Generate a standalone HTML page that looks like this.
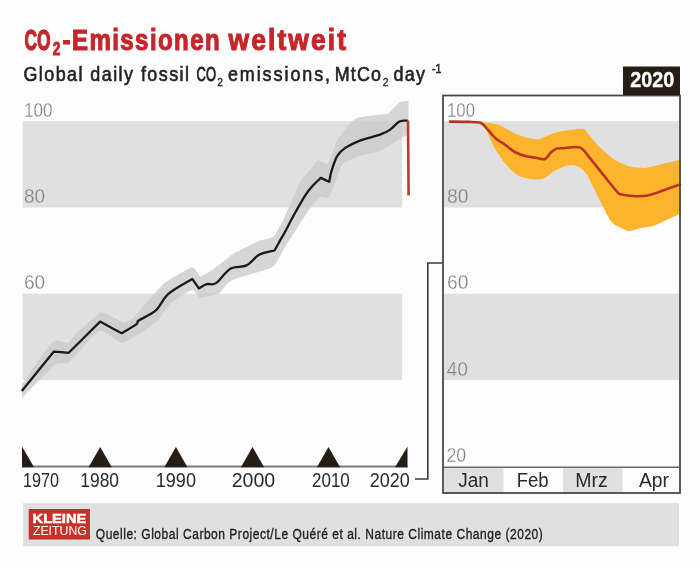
<!DOCTYPE html>
<html><head><meta charset="utf-8"><style>
html,body{margin:0;padding:0;background:#fdfdfd;}
svg{display:block;font-family:"Liberation Sans",sans-serif;will-change:transform;}
</style></head><body>
<svg width="700" height="571" viewBox="0 0 700 571">
<rect width="700" height="571" fill="#fdfdfd"/>
<text x="24.4" y="50" font-size="29.3" font-weight="bold" fill="#c5262c" textLength="26.0" lengthAdjust="spacingAndGlyphs" stroke="#c5262c" stroke-width="1.4">CO</text>
<text x="52.8" y="55" font-size="17.5" font-weight="bold" fill="#c5262c" textLength="7.6" lengthAdjust="spacingAndGlyphs" stroke="#c5262c" stroke-width="0.9">2</text>
<text transform="scale(0.82,1)" x="76.34" y="50" font-size="29.3" font-weight="bold" fill="#c5262c" textLength="191.46" lengthAdjust="spacing" stroke="#c5262c" stroke-width="1.1">-Emissionen</text>
<text transform="scale(0.9,1)" x="253.89" y="50" font-size="29.3" font-weight="bold" fill="#c5262c" textLength="130.56" lengthAdjust="spacing" stroke="#c5262c" stroke-width="1.1">weltweit</text>
<text transform="scale(0.9,1)" x="26.00" y="81.1" font-size="19.9" font-weight="normal" fill="#222" textLength="184.00" lengthAdjust="spacing" stroke="#222" stroke-width="0.6">Global daily fossil</text>
<text x="196.6" y="81.1" font-size="19.9" font-weight="normal" fill="#222" textLength="19.4" lengthAdjust="spacingAndGlyphs" stroke="#222" stroke-width="0.9">CO</text>
<text x="217.2" y="86" font-size="11.5" font-weight="normal" fill="#222" textLength="5.8" lengthAdjust="spacingAndGlyphs" stroke="#222" stroke-width="0.35">2</text>
<text transform="scale(0.9,1)" x="253.22" y="81.1" font-size="19.9" font-weight="normal" fill="#222" textLength="113.56" lengthAdjust="spacing" stroke="#222" stroke-width="0.6">emissions,</text>
<text transform="scale(0.9,1)" x="372.00" y="81.1" font-size="19.9" font-weight="normal" fill="#222" textLength="51.33" lengthAdjust="spacing" stroke="#222" stroke-width="0.6">MtCo</text>
<text x="382.7" y="86" font-size="11.5" font-weight="normal" fill="#222" textLength="5.8" lengthAdjust="spacingAndGlyphs" stroke="#222" stroke-width="0.35">2</text>
<text transform="scale(0.9,1)" x="437.33" y="81.1" font-size="19.9" font-weight="normal" fill="#222" textLength="34.89" lengthAdjust="spacing" stroke="#222" stroke-width="0.6">day</text>
<text x="432" y="73.2" font-size="12.5" font-weight="normal" fill="#222" textLength="9.5" lengthAdjust="spacingAndGlyphs" stroke="#222" stroke-width="0.5">-1</text>
<rect x="22.7" y="121.2" width="379.5" height="86.3" fill="#e0e0e0"/><rect x="22.7" y="293.7" width="379.5" height="86.4" fill="#e0e0e0"/><text x="24" y="116.5" font-size="21" font-weight="normal" fill="#7f7f7f" textLength="28.5" lengthAdjust="spacingAndGlyphs" stroke="#fdfdfd" stroke-width="0.3">100</text>
<text x="24" y="203.2" font-size="21" font-weight="normal" fill="#7f7f7f" textLength="21" lengthAdjust="spacingAndGlyphs" stroke="#e0e0e0" stroke-width="0.3">80</text>
<text x="24" y="288.9" font-size="21" font-weight="normal" fill="#7f7f7f" textLength="21" lengthAdjust="spacingAndGlyphs" stroke="#fdfdfd" stroke-width="0.3">60</text>
<path d="M22.00,384.00 C24.58,380.47 49.17,345.03 53.00,341.60 C56.83,338.18 66.07,343.47 67.90,342.90 C69.73,342.32 72.32,337.22 75.00,334.70 C77.68,332.18 97.03,314.22 100.10,312.70 C103.17,311.18 109.81,315.58 111.80,316.40 C113.79,317.22 122.27,322.35 124.00,322.50 C125.73,322.65 130.96,319.58 132.60,318.20 C134.24,316.82 141.02,308.82 143.70,305.90 C146.38,302.97 160.65,286.32 164.70,283.10 C168.75,279.88 189.34,267.85 192.30,267.30 C195.26,266.75 198.45,276.33 200.20,276.50 C201.95,276.67 211.44,270.50 213.30,269.30 C215.16,268.10 220.69,263.47 222.50,262.10 C224.31,260.73 232.03,254.63 235.00,252.90 C237.97,251.17 254.89,242.67 258.10,241.30 C261.31,239.93 271.25,238.59 273.50,236.50 C275.75,234.41 282.85,220.77 285.10,216.20 C287.35,211.62 298.26,185.62 300.50,181.60 C302.74,177.58 310.54,169.76 312.00,168.00 C313.46,166.24 316.67,160.88 318.00,160.50 C319.33,160.12 326.39,165.21 328.00,163.50 C329.61,161.79 335.30,143.53 337.30,140.00 C339.30,136.47 350.13,123.09 352.00,121.20 C353.87,119.31 357.37,117.86 359.70,117.30 C362.03,116.74 377.61,114.83 380.00,114.50 C382.39,114.17 386.78,114.41 388.40,113.40 C390.02,112.39 397.72,103.43 399.40,102.40 C401.07,101.37 407.74,101.12 408.50,101.00 L408.50,135.00 C408.04,135.17 405.38,135.67 403.00,137.00 C400.62,138.33 383.63,149.42 380.00,151.00 C376.37,152.58 362.57,154.83 359.40,156.00 C356.23,157.17 344.50,161.60 342.00,165.00 C339.50,168.40 331.23,194.13 329.40,196.80 C327.57,199.47 321.70,195.90 320.00,197.00 C318.30,198.10 310.75,207.67 309.00,210.00 C307.25,212.33 300.99,221.91 299.00,225.00 C297.01,228.09 287.23,243.66 285.10,247.10 C282.98,250.54 275.75,264.22 273.50,266.30 C271.25,268.38 261.31,271.05 258.10,272.10 C254.89,273.15 237.63,277.88 235.00,278.90 C232.37,279.92 227.87,283.17 226.50,284.40 C225.13,285.62 220.79,292.50 218.60,293.60 C216.41,294.70 202.39,297.93 200.20,297.60 C198.01,297.28 194.71,289.27 192.30,289.70 C189.89,290.13 174.16,300.28 171.30,302.80 C168.44,305.32 160.19,317.69 158.00,320.00 C155.81,322.31 146.81,329.22 145.00,330.50 C143.19,331.78 138.25,334.38 136.30,335.40 C134.35,336.42 124.67,343.11 121.60,342.70 C118.53,342.29 103.38,329.38 99.50,330.50 C95.62,331.62 77.62,353.49 75.00,356.20 C72.38,358.91 69.69,362.27 68.00,363.00 C66.31,363.73 58.53,362.08 54.70,365.00 C50.87,367.92 24.73,395.25 22.00,398.00 Z" fill="#cbcbcb" opacity="0.78"/><path d="M21.80,391.00 C27.15,384.43 48.55,358.17 53.90,351.60 L53.90,351.60 C56.37,351.80 66.23,352.60 68.70,352.80 L68.70,352.80 C73.93,347.60 94.87,326.80 100.10,321.60 L100.10,321.60 C103.68,323.53 118.02,331.27 121.60,333.20 L121.60,333.20 C124.05,331.72 133.45,326.42 136.30,324.30 C139.15,322.18 135.50,322.77 138.70,320.50 C141.90,318.23 150.50,315.18 155.50,310.70 C160.50,306.22 162.57,298.90 168.70,293.60 C174.83,288.30 188.37,281.35 192.30,278.90 L192.30,278.90 C193.40,280.48 197.80,286.82 198.90,288.40 L198.90,288.40 C200.22,287.70 203.95,285.08 206.80,284.20 C209.65,283.32 212.07,285.68 216.00,283.10 C219.93,280.52 225.30,271.65 230.40,268.70 C235.50,265.75 241.82,267.72 246.60,265.40 C251.38,263.08 254.45,257.28 259.10,254.80 C263.75,252.32 271.93,251.22 274.50,250.50 L274.50,250.50 C275.25,249.17 277.23,245.63 279.00,242.50 C280.77,239.37 282.93,235.70 285.10,231.70 C287.27,227.70 289.75,222.68 292.00,218.50 C294.25,214.32 296.30,210.58 298.60,206.60 C300.90,202.62 303.57,197.95 305.80,194.60 C308.03,191.25 309.50,189.28 312.00,186.50 C314.50,183.72 319.33,179.33 320.80,177.90 L320.80,177.90 C322.20,178.55 327.80,181.15 329.20,181.80 L329.20,181.80 C329.63,179.83 330.45,174.33 331.80,170.00 C333.15,165.67 335.07,159.48 337.30,155.80 C339.53,152.12 341.52,150.40 345.20,147.90 C348.88,145.40 353.60,143.00 359.40,140.80 C365.20,138.60 374.92,136.52 380.00,134.70 C385.08,132.88 386.67,132.10 389.90,129.90 C393.13,127.70 396.38,123.03 399.40,121.50 C402.42,119.97 406.57,120.83 408.00,120.70" fill="none" stroke="#1d1916" stroke-width="2.3" stroke-linejoin="round"/><line x1="408" y1="120.5" x2="408.6" y2="195.5" stroke="#b83a30" stroke-width="2.6"/><line x1="22" y1="466.5" x2="407.5" y2="466.5" stroke="#7a7a7a" stroke-width="2"/><polygon points="22,446.5 22,467.2 34,467.2" fill="#261d15"/><polygon points="88.60000000000001,467.2 100.2,447 111.8,467.2" fill="#261d15"/><polygon points="164.3,467.2 175.9,447 187.5,467.2" fill="#261d15"/><polygon points="240.9,467.2 252.5,447 264.1,467.2" fill="#261d15"/><polygon points="316.9,467.2 328.5,447 340.1,467.2" fill="#261d15"/><polygon points="407.5,446.5 407.5,467.2 395,467.2" fill="#261d15"/><text x="23" y="486.6" font-size="19.5" font-weight="normal" fill="#2a2a2a" textLength="36" lengthAdjust="spacingAndGlyphs" >1970</text>
<text x="80.3" y="486.6" font-size="19.5" font-weight="normal" fill="#2a2a2a" textLength="38.7" lengthAdjust="spacingAndGlyphs" >1980</text>
<text x="155.7" y="486.6" font-size="19.5" font-weight="normal" fill="#2a2a2a" textLength="40.3" lengthAdjust="spacingAndGlyphs" >1990</text>
<text x="231.7" y="486.6" font-size="19.5" font-weight="normal" fill="#2a2a2a" textLength="43.5" lengthAdjust="spacingAndGlyphs" >2000</text>
<text x="312" y="486.6" font-size="19.5" font-weight="normal" fill="#2a2a2a" textLength="37.8" lengthAdjust="spacingAndGlyphs" >2010</text>
<text x="369.7" y="486.6" font-size="19.5" font-weight="normal" fill="#2a2a2a" textLength="40.0" lengthAdjust="spacingAndGlyphs" >2020</text>
<polyline points="415,479 427.8,479 427.8,263 443,263" fill="none" stroke="#3a3a3a" stroke-width="1.6"/><rect x="444" y="121.2" width="236" height="86.3" fill="#e0e0e0"/><rect x="444" y="293.7" width="236" height="86.4" fill="#e0e0e0"/><rect x="444" y="468" width="59.5" height="25" fill="#e0e0e0"/><rect x="563" y="468" width="59.5" height="25" fill="#e0e0e0"/><line x1="443" y1="467.3" x2="680" y2="467.3" stroke="#6a6a6a" stroke-width="1.5"/><path d="M481.00,122.20 C481.40,122.25 481.73,122.27 484.00,122.60 C486.27,122.93 494.81,123.77 498.00,124.70 C501.19,125.63 505.09,128.20 507.90,129.60 C510.71,131.00 515.18,133.89 519.10,135.20 C523.02,136.51 533.19,139.49 537.30,139.40 C541.41,139.31 546.87,135.55 549.90,134.50 C552.93,133.45 555.68,132.27 560.00,131.50 C564.32,130.73 578.62,128.51 582.30,128.70 C585.98,128.89 585.64,130.81 587.60,132.90 C589.56,134.99 594.05,141.32 597.00,144.40 C599.95,147.48 607.30,153.91 609.70,156.00 C612.10,158.09 612.43,158.73 615.00,160.10 C617.57,161.47 625.03,165.25 629.00,166.30 C632.97,167.35 640.60,168.24 644.80,168.00 C649.00,167.76 655.67,165.59 660.50,164.50 C665.33,163.41 678.27,160.43 681.00,159.80 L681.00,213.20 C679.20,214.05 671.17,217.92 667.50,219.60 C663.83,221.28 657.23,224.63 653.50,225.80 C649.77,226.97 642.77,227.71 639.50,228.40 C636.23,229.09 631.29,230.99 629.00,231.00 C626.71,231.01 624.59,229.67 622.30,228.50 C620.01,227.33 614.33,225.00 611.80,222.20 C609.27,219.40 605.69,211.98 603.30,207.50 C600.91,203.02 596.14,193.08 593.90,188.60 C591.66,184.12 588.61,176.85 586.50,173.90 C584.39,170.95 580.62,167.62 578.10,166.50 C575.58,165.38 570.68,164.94 567.60,165.50 C564.52,166.06 558.29,168.94 555.00,170.70 C551.71,172.46 546.38,177.63 542.90,178.70 C539.42,179.77 532.45,179.26 528.90,178.70 C525.35,178.14 519.49,176.55 516.30,174.50 C513.11,172.45 508.00,167.03 505.00,163.30 C502.00,159.57 496.23,150.81 493.80,146.50 C491.37,142.19 488.37,134.13 486.80,131.00 C485.23,127.87 482.64,124.07 482.00,123.00Z" fill="#fdb42d"/><path d="M450.00,121.60 C453.00,121.64 465.53,121.75 470.00,121.90 C474.47,122.05 477.70,122.07 479.80,122.60 C481.90,123.12 481.69,123.09 484.00,125.40 C486.31,127.71 492.26,135.27 495.20,138.00 C498.14,140.73 500.65,141.50 503.60,143.60 C506.56,145.70 511.52,150.09 514.90,152.00 C518.27,153.91 522.95,155.45 526.10,156.30 C529.25,157.16 533.06,157.28 535.90,157.70 C538.74,158.12 542.69,159.95 545.00,159.10 C547.31,158.25 549.51,153.57 551.30,152.00 C553.08,150.43 555.08,149.17 556.90,148.60 C558.72,148.03 559.90,148.35 563.40,148.20 C566.89,148.05 576.11,145.97 580.20,147.60 C584.30,149.23 586.59,154.21 590.70,159.10 C594.81,163.99 603.49,175.14 607.60,180.20 C611.71,185.25 615.94,190.66 618.10,192.80 C620.26,194.95 619.84,194.02 622.00,194.50 C624.16,194.98 628.83,195.82 632.50,196.00 C636.17,196.18 642.03,196.48 646.50,195.70 C650.97,194.92 657.27,192.50 662.30,190.80 C667.32,189.11 677.35,185.36 680.00,184.40" fill="none" stroke="#b93427" stroke-width="2.6" stroke-linejoin="round" stroke-linecap="round"/><text x="447" y="116.5" font-size="21" font-weight="normal" fill="#7f7f7f" textLength="28" lengthAdjust="spacingAndGlyphs" stroke="#fdfdfd" stroke-width="0.3">100</text>
<text x="447" y="203.2" font-size="21" font-weight="normal" fill="#7f7f7f" textLength="21.4" lengthAdjust="spacingAndGlyphs" stroke="#e0e0e0" stroke-width="0.3">80</text>
<text x="447" y="288.9" font-size="21" font-weight="normal" fill="#7f7f7f" textLength="21.4" lengthAdjust="spacingAndGlyphs" stroke="#fdfdfd" stroke-width="0.3">60</text>
<text x="446.5" y="375.6" font-size="21" font-weight="normal" fill="#7f7f7f" textLength="21.4" lengthAdjust="spacingAndGlyphs" stroke="#e0e0e0" stroke-width="0.3">40</text>
<text x="446.5" y="461.8" font-size="21" font-weight="normal" fill="#7f7f7f" textLength="19.7" lengthAdjust="spacingAndGlyphs" stroke="#fdfdfd" stroke-width="0.3">20</text>
<text x="458.2" y="486.8" font-size="20" font-weight="normal" fill="#2a2a2a" textLength="30.7" lengthAdjust="spacingAndGlyphs" >Jan</text>
<text x="516.7" y="486.8" font-size="20" font-weight="normal" fill="#2a2a2a" textLength="31.9" lengthAdjust="spacingAndGlyphs" >Feb</text>
<text x="575.3" y="486.8" font-size="20" font-weight="normal" fill="#2a2a2a" textLength="32.5" lengthAdjust="spacingAndGlyphs" >Mrz</text>
<text x="638.9" y="486.8" font-size="20" font-weight="normal" fill="#2a2a2a" textLength="30.0" lengthAdjust="spacingAndGlyphs" >Apr</text>
<rect x="443" y="95.5" width="237" height="397.5" fill="none" stroke="#4a4a4a" stroke-width="1.8"/><rect x="623" y="66.5" width="57" height="28.5" fill="#261d15"/><text x="630.3" y="86.7" font-size="22.5" font-weight="bold" fill="#fff" textLength="44" lengthAdjust="spacingAndGlyphs" stroke="#fff" stroke-width="0.4">2020</text>
<rect x="23" y="503" width="656" height="43.2" fill="#e0e0e0"/><rect x="28.7" y="509" width="61.3" height="30.5" fill="#c8312b"/><text x="32.6" y="523.2" font-size="13.6" font-weight="bold" fill="#fff" textLength="53.6" lengthAdjust="spacingAndGlyphs" stroke="#fff" stroke-width="0.5">KLEINE</text>
<text x="32.9" y="535.3" font-size="13.6" font-weight="normal" fill="#fff" textLength="54" lengthAdjust="spacingAndGlyphs" >ZEITUNG</text>
<text transform="scale(0.8,1)" x="119.75" y="539" font-size="15" font-weight="normal" fill="#222" textLength="558.75" lengthAdjust="spacing" stroke="#222" stroke-width="0.35">Quelle: Global Carbon Project/Le Quéré et al. Nature Climate Change (2020)</text>

</svg>
</body></html>
